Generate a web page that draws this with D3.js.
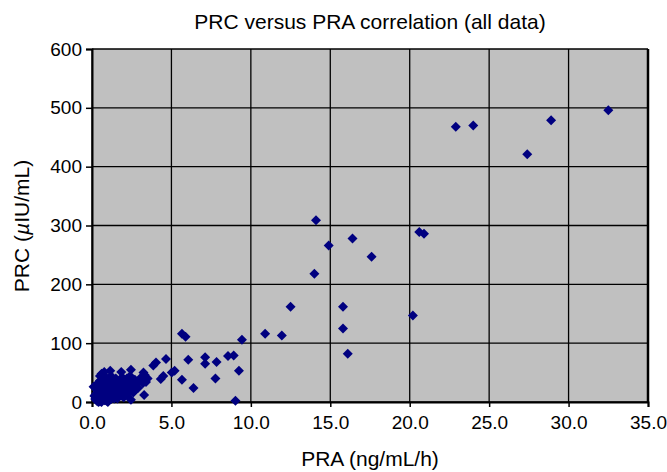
<!DOCTYPE html>
<html>
<head>
<meta charset="utf-8">
<script src="https://cdn.jsdelivr.net/npm/d3@7"></script>
<style>
  body { margin: 0; background: #fff; }
  svg { font-family: "Liberation Sans", Arial, sans-serif; }
</style>
</head>
<body>
<svg id="chart" width="667" height="472"></svg>
<script>
// PRA (ng/mL/h) values
const pra = [
  32.5, 28.9, 27.4, 22.9, 24.0,
  14.1, 14.9, 16.4, 17.6, 14.0, 15.8, 15.8, 16.1, 20.2, 20.6, 20.9,
  12.5, 10.9, 11.95, 9.44, 5.66, 5.89, 6.06, 7.12, 7.12, 7.84, 8.56, 8.92,
  9.25, 5.66, 7.77, 6.39, 9.03, 4.66, 4.03, 3.86, 5.2, 5.02, 4.33, 4.49,
  3.32, 3.24, 2.45, 1.84, 1.15, 0.77, 2.45, 3.28,
  0.3, 0.4, 0.5, 0.5, 0.6, 0.6, 0.7, 0.7, 0.8, 0.8, 0.9, 0.9, 1.0, 1.0,
  1.1, 1.1, 1.2, 1.2, 1.3, 1.3, 1.4, 1.5, 1.5, 1.6, 1.7, 1.8, 1.9, 2.0,
  2.0, 2.1, 2.2, 2.3, 2.4, 2.5, 2.6, 2.8, 3.0, 3.2, 3.5, 0.4, 0.5, 0.6,
  0.3, 0.2, 0.7, 0.8, 0.9, 1.0, 0.4, 0.5, 1.6, 1.8, 2.7, 0.6, 0.7, 1.4,
  0.2, 0.3, 0.4, 0.5, 0.6, 0.7, 0.8, 0.9, 1.0, 1.1, 1.2, 1.3, 1.4, 1.5,
  1.6, 1.7, 1.8, 1.9, 2.0, 2.1, 2.2, 2.3, 2.4, 2.6, 2.7, 2.9, 3.1, 3.4,
  0.5, 0.6, 1.2, 0.3, 0.8, 1.1, 1.3, 0.9, 1.6, 2.2, 1.9, 2.5, 0.1, 0.15
];
// PRC (µIU/mL) values, same order as pra
const prc = [
  496, 479, 421, 468, 470,
  309, 266, 278, 247, 218, 162, 125, 82, 147, 289, 286,
  162, 116, 113, 106, 116, 111, 72, 76, 65, 68, 78, 79,
  53, 38, 40, 24, 2, 73, 67, 62, 53, 50, 39, 44,
  46, 50, 55, 51, 53, 51, 4, 12,
  2, 8, 4, 12, 0, 18, 6, 25, 10, 3, 15, 30, 8, 20,
  12, 28, 5, 18, 22, 35, 14, 25, 10, 30, 20, 38, 26, 16,
  32, 22, 40, 28, 18, 34, 26, 30, 38, 32, 40, 20, 28, 35,
  15, 5, 40, 44, 2, 0, 0, 1, 12, 24, 20, 30, 14, 6,
  12, 22, 30, 36, 10, 14, 20, 24, 32, 4, 26, 9, 30, 40,
  6, 34, 14, 42, 8, 36, 12, 34, 44, 16, 38, 24, 42, 34,
  44, 48, 44, 30, 36, 38, 16, 8, 18, 26, 10, 22, 26, 10
];
const xTicks = [0, 5, 10, 15, 20, 25, 30, 35];
const yTicks = [0, 100, 200, 300, 400, 500, 600];

const points = pra.map((d, i) => ({ x: d, y: prc[i] }));

const margin = { left: 92, top: 49, right: 19, bottom: 70 };
const width = 667 - margin.left - margin.right;
const height = 472 - margin.top - margin.bottom;

const svg = d3.select("#chart");
const g = svg.append("g")
  .attr("transform", "translate(" + margin.left + "," + margin.top + ")");

const x = d3.scaleLinear().domain([0, 35]).range([0, width]);
const y = d3.scaleLinear().domain([0, 600]).range([height, 0]);

// plot background
g.append("rect")
  .attr("width", width)
  .attr("height", height)
  .attr("fill", "#c0c0c0");

// grid
g.selectAll("line.vgrid")
  .data(xTicks)
  .enter()
  .append("line")
  .attr("x1", d => x(d)).attr("x2", d => x(d))
  .attr("y1", 0).attr("y2", height)
  .attr("stroke", "#000").attr("stroke-width", 1.3);

g.selectAll("line.hgrid")
  .data(yTicks)
  .enter()
  .append("line")
  .attr("x1", 0).attr("x2", width)
  .attr("y1", d => y(d)).attr("y2", d => y(d))
  .attr("stroke", "#000").attr("stroke-width", 1.3);

// right border is heavier
g.append("line")
  .attr("x1", width).attr("x2", width)
  .attr("y1", 0).attr("y2", height)
  .attr("stroke", "#000").attr("stroke-width", 2.5);

// axes
const xAxis = d3.axisBottom(x)
  .tickValues(xTicks)
  .tickFormat(d3.format(".1f"))
  .tickSize(5)
  .tickPadding(9);
const yAxis = d3.axisLeft(y)
  .tickValues(yTicks)
  .tickSize(6)
  .tickPadding(4);

g.append("g")
  .attr("transform", "translate(0," + height + ")")
  .call(xAxis)
  .call(s => s.select(".domain").attr("stroke-width", 2))
  .call(s => s.selectAll(".tick line").attr("stroke-width", 1.5))
  .call(s => s.selectAll("text").attr("font-size", 19).attr("fill", "#000")
    .attr("font-family", "Liberation Sans, Arial, sans-serif"));

g.append("g")
  .call(yAxis)
  .call(s => s.select(".domain").attr("stroke-width", 2))
  .call(s => s.selectAll(".tick line").attr("stroke-width", 1.5))
  .call(s => s.selectAll("text").attr("font-size", 19).attr("fill", "#000")
    .attr("font-family", "Liberation Sans, Arial, sans-serif"));

// markers
const diamond = "M0,-5L5,0L0,5L-5,0Z";
g.selectAll("path.pt")
  .data(points)
  .enter()
  .append("path")
  .classed("pt", true)
  .attr("d", diamond)
  .attr("transform", d => "translate(" + x(d.x) + "," + y(d.y) + ")")
  .attr("fill", "#000080");

// title
svg.append("text")
  .attr("x", 370)
  .attr("y", 29)
  .attr("text-anchor", "middle")
  .attr("font-size", 21)
  .text("PRC versus PRA correlation (all data)");

// x label
svg.append("text")
  .attr("x", 370)
  .attr("y", 466)
  .attr("text-anchor", "middle")
  .attr("font-size", 21)
  .text("PRA (ng/mL/h)");

// y label
const yl = svg.append("text")
  .attr("transform", "translate(29,226) rotate(-90)")
  .attr("text-anchor", "middle")
  .attr("font-size", 21);
yl.append("tspan").text("PRC (");
yl.append("tspan").attr("font-style", "italic").text("\u00b5");
yl.append("tspan").text("IU/mL)");
</script>
</body>
</html>
